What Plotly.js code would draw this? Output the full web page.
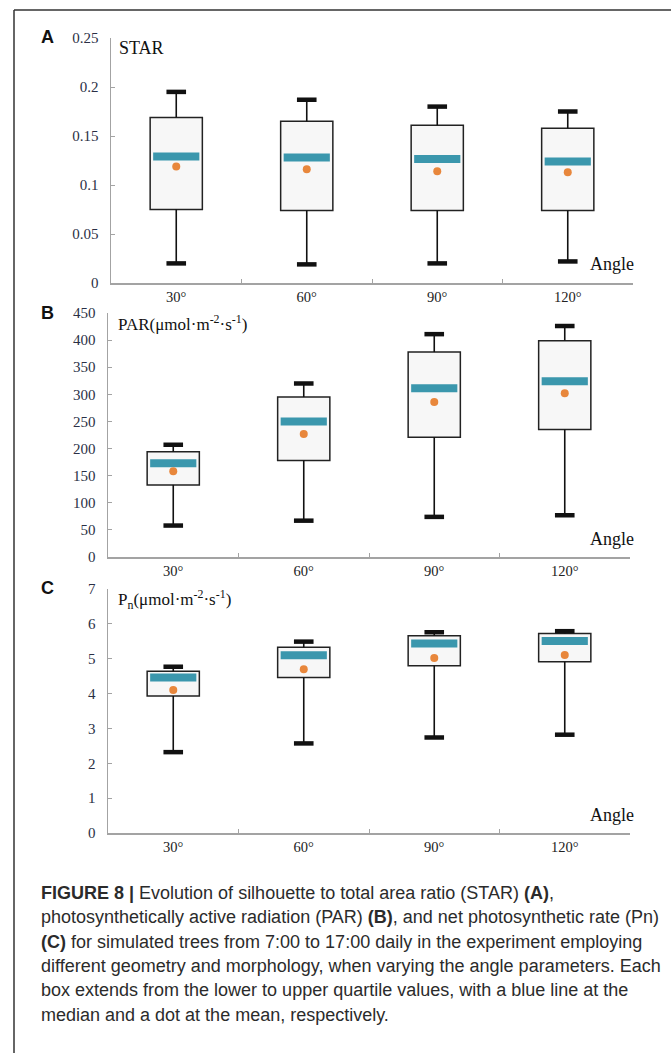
<!DOCTYPE html>
<html><head><meta charset="utf-8">
<script src="https://cdn.plot.ly/plotly-3.0.1.min.js"></script>
<style>html,body{margin:0;padding:0;background:#fff;}#chart{width:671px;height:1053px;}</style>
</head><body><div id="chart"></div>
<script>
// ---------- data ----------
const angles = ["30°", "60°", "90°", "120°"];

// Panel A: STAR
const starLow    = [0.020, 0.019, 0.020, 0.022];
const starQ1     = [0.075, 0.074, 0.074, 0.074];
const starMedian = [0.129, 0.128, 0.1265, 0.124];
const starMean   = [0.119, 0.116, 0.114, 0.113];
const starQ3     = [0.169, 0.165, 0.161, 0.158];
const starHigh   = [0.195, 0.187, 0.180, 0.175];
const starTicks  = [0, 0.05, 0.1, 0.15, 0.2, 0.25];
const starTickText = ["0", "0.05", "0.1", "0.15", "0.2", "0.25"];

// Panel B: PAR
const parLow    = [58, 67, 74, 77];
const parQ1     = [133, 178, 221, 235];
const parMedian = [173, 250, 311, 324];
const parMean   = [158, 227, 286, 302];
const parQ3     = [194, 295, 378, 399];
const parHigh   = [207, 320, 411, 426];
const parTicks  = [0, 50, 100, 150, 200, 250, 300, 350, 400, 450];
const parTickText = ["0", "50", "100", "150", "200", "250", "300", "350", "400", "450"];

// Panel C: Pn
const pnLow    = [2.32, 2.57, 2.74, 2.82];
const pnQ1     = [3.93, 4.46, 4.80, 4.91];
const pnMedian = [4.46, 5.10, 5.44, 5.51];
const pnMean   = [4.10, 4.70, 5.02, 5.11];
const pnQ3     = [4.64, 5.33, 5.66, 5.72];
const pnHigh   = [4.77, 5.49, 5.76, 5.79];
const pnTicks  = [0, 1, 2, 3, 4, 5, 6, 7];
const pnTickText = ["0", "1", "2", "3", "4", "5", "6", "7"];

const captionLines = [
  "<b>FIGURE 8 |</b> Evolution of silhouette to total area ratio (STAR) <b>(A)</b>,",
  "photosynthetically active radiation (PAR) <b>(B)</b>, and net photosynthetic rate (Pn)",
  "<b>(C)</b> for simulated trees from 7:00 to 17:00 daily in the experiment employing",
  "different geometry and morphology, when varying the angle parameters. Each",
  "box extends from the lower to upper quartile values, with a blue line at the",
  "median and a dot at the mean, respectively."
];

// ---------- styling / layout ----------
const W = 671, H = 1053;
const px = v => v / W;
const py = v => 1 - v / H;
const serif = "Liberation Serif, Times New Roman, serif";
const sans = "Liberation Sans, Arial, sans-serif";
const TEAL = "#3b97ad", ORANGE = "#e8873c";

const traces = [];
function panel(idx, low, q1, med, mean, q3, high) {
  const xa = idx === 1 ? "x" : "x" + idx;
  const ya = idx === 1 ? "y" : "y" + idx;
  traces.push({
    type: "bar", x: angles, base: q1, y: q3.map((v, i) => v - q1[i]),
    width: 0.4, xaxis: xa, yaxis: ya, hoverinfo: "skip",
    marker: { color: "#f7f7f7", line: { color: "#222", width: 1.5 } }
  });
  traces.push({
    type: "scatter", mode: "markers", x: angles, y: q3, xaxis: xa, yaxis: ya,
    marker: { size: 1, opacity: 0 }, hoverinfo: "skip",
    error_y: { type: "data", symmetric: false, array: high.map((v, i) => v - q3[i]),
      arrayminus: q3.map(() => 0), width: 0, thickness: 1.6, color: "#111" }
  });
  traces.push({
    type: "scatter", mode: "markers", x: angles, y: q1, xaxis: xa, yaxis: ya,
    marker: { size: 1, opacity: 0 }, hoverinfo: "skip",
    error_y: { type: "data", symmetric: false, array: q1.map(() => 0),
      arrayminus: q1.map((v, i) => v - low[i]), width: 0, thickness: 1.6, color: "#111" }
  });
  traces.push({
    type: "scatter", mode: "markers", x: angles.concat(angles), y: low.concat(high),
    xaxis: xa, yaxis: ya, hoverinfo: "skip",
    marker: { symbol: "line-ew", size: 14, line: { width: 4.5, color: "#111" } }
  });
  traces.push({
    type: "scatter", mode: "markers", x: angles, y: med, xaxis: xa, yaxis: ya,
    hoverinfo: "skip",
    marker: { symbol: "line-ew", size: 33, line: { width: 8, color: TEAL } }
  });
  traces.push({
    type: "scatter", mode: "markers", x: angles, y: mean, xaxis: xa, yaxis: ya,
    hoverinfo: "skip",
    marker: { symbol: "circle", size: 8, color: ORANGE, line: { width: 0 } }
  });
}
panel(1, starLow, starQ1, starMedian, starMean, starQ3, starHigh);
panel(2, parLow, parQ1, parMedian, parMean, parQ3, parHigh);
panel(3, pnLow, pnQ1, pnMedian, pnMean, pnQ3, pnHigh);

function xaxis(domain, anchor) {
  return {
    domain: domain, anchor: anchor, type: "category", range: [-0.5, 3.5],
    showline: true, linecolor: "#a3a3a3", linewidth: 1.5,
    ticks: "inside", tickson: "boundaries", ticklen: 4, tickcolor: "#a3a3a3", tickwidth: 1,
    showgrid: false, zeroline: false, fixedrange: true,
    tickfont: { family: serif, size: 14.5, color: "#222" }
  };
}
function yaxis(domain, anchor, range, tv, tt) {
  return {
    domain: domain, anchor: anchor, range: range, tickvals: tv, ticktext: tt,
    showline: true, linecolor: "#a3a3a3", linewidth: 1.5,
    ticks: "inside", ticklen: 4, tickcolor: "#a3a3a3", tickwidth: 1,
    showgrid: false, zeroline: false, fixedrange: true, ticklabelstandoff: 8,
    tickfont: { family: serif, size: 15, color: "#2a2f45" }
  };
}

const annotations = [];
function ann(text, x, y, opts) {
  annotations.push(Object.assign({
    text: text, xref: "paper", yref: "paper", x: px(x), y: py(y),
    xanchor: "left", yanchor: "middle", showarrow: false,
    font: { family: serif, size: 17, color: "#111" }
  }, opts || {}));
}
// panel letters
ann("<b>A</b>", 39, 37, { font: { family: sans, size: 18, color: "#111" } });
ann("<b>B</b>", 39, 313, { font: { family: sans, size: 18, color: "#111" } });
ann("<b>C</b>", 39, 588, { font: { family: sans, size: 18, color: "#111" } });
// inner titles
ann("STAR", 117, 48, { font: { family: serif, size: 18, color: "#111" } });
ann("PAR(μmol·m<sup>-2</sup>·s<sup>-1</sup>)", 116, 323);
ann("P<sub>n</sub>(μmol·m<sup>-2</sup>·s<sup>-1</sup>)", 116, 599);
// Angle labels
ann("Angle", 636, 264, { xanchor: "right", font: { family: serif, size: 18, color: "#111" } });
ann("Angle", 636, 539, { xanchor: "right", font: { family: serif, size: 18, color: "#111" } });
ann("Angle", 636, 815, { xanchor: "right", font: { family: serif, size: 18, color: "#111" } });
// caption
captionLines.forEach((t, i) => {
  ann(t, 39, 893 + i * 24.3, { font: { family: sans, size: 18, color: "#2b2b2b" } });
});

const layout = {
  width: W, height: H, margin: { l: 0, r: 0, t: 0, b: 0 },
  paper_bgcolor: "#fff", plot_bgcolor: "rgba(0,0,0,0)", showlegend: false,
  xaxis: xaxis([px(111), px(633)], "y"),
  yaxis: yaxis([py(283), py(38)], "x", [0, 0.25], starTicks, starTickText),
  xaxis2: xaxis([px(108), px(630)], "y2"),
  yaxis2: yaxis([py(557), py(313)], "x2", [0, 450], parTicks, parTickText),
  xaxis3: xaxis([px(108), px(630)], "y3"),
  yaxis3: yaxis([py(833), py(589)], "x3", [0, 7], pnTicks, pnTickText),
  annotations: annotations,
  shapes: [
    { type: "line", xref: "paper", yref: "paper", x0: px(14), x1: px(680), y0: py(10), y1: py(10), line: { color: "#333", width: 1.5 } },
    { type: "line", xref: "paper", yref: "paper", x0: px(14), x1: px(14), y0: py(10), y1: py(1060), line: { color: "#333", width: 1.5 } }
  ]
};
Plotly.newPlot("chart", traces, layout, { staticPlot: true, displayModeBar: false });
</script>
</body></html>
